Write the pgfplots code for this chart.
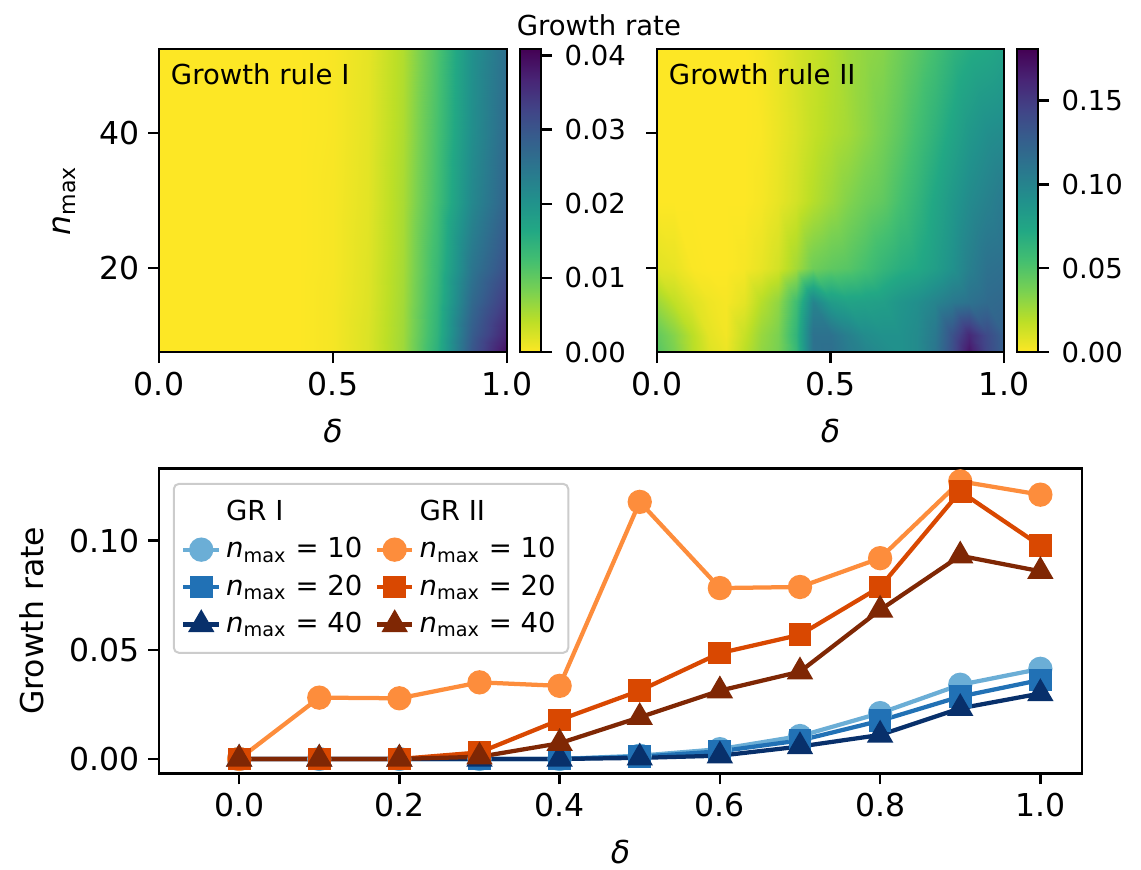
\documentclass[border=0pt]{standalone}
\usepackage{fontspec}
\setmainfont{DejaVu Sans}
\usepackage{pgfplots}
\usepackage{pgfplotstable}
\pgfplotsset{compat=1.18}

\definecolor{bI1}{RGB}{107,174,214}
\definecolor{bI2}{RGB}{33,113,181}
\definecolor{bI3}{RGB}{8,48,107}
\definecolor{oII1}{RGB}{253,141,60}
\definecolor{oII2}{RGB}{217,72,1}
\definecolor{oII3}{RGB}{127,39,4}

\newcommand{\nmax}{\textit{n}\textsubscript{max}}
\newcommand{\fbig}{\fontsize{12.6}{15}\selectfont}
\newcommand{\fsmall}{\fontsize{11}{13}\selectfont}

% heat map GR I: delta (0..1), nmax, growth rate
\pgfplotstableread{
d n v
0.0 7.5 0
0.1 7.5 0
0.2 7.5 0
0.3 7.5 0
0.4 7.5 0
0.5 7.5 0.0005
0.6 7.5 0.0022
0.7 7.5 0.0060
0.8 7.5 0.0150
0.9 7.5 0.0300
1.0 7.5 0.0395
0.0 10 0
0.1 10 0
0.2 10 0
0.3 10 0
0.4 10 0
0.5 10 0.0005
0.6 10 0.0022
0.7 10 0.0059
0.8 10 0.0145
0.9 10 0.0290
1.0 10 0.0370
0.0 15 0
0.1 15 0
0.2 15 0
0.3 15 0
0.4 15 0
0.5 15 0.0005
0.6 15 0.0020
0.7 15 0.0057
0.8 15 0.0140
0.9 15 0.0270
1.0 15 0.0340
0.0 20 0
0.1 20 0
0.2 20 0
0.3 20 0
0.4 20 0
0.5 20 0.0004
0.6 20 0.0019
0.7 20 0.0055
0.8 20 0.0135
0.9 20 0.0250
1.0 20 0.0310
0.0 30 0
0.1 30 0
0.2 30 0
0.3 30 0
0.4 30 0
0.5 30 0.0004
0.6 30 0.0017
0.7 30 0.0053
0.8 30 0.0125
0.9 30 0.0220
1.0 30 0.0280
0.0 40 0
0.1 40 0
0.2 40 0
0.3 40 0
0.4 40 0
0.5 40 0.0003
0.6 40 0.0016
0.7 40 0.0050
0.8 40 0.0120
0.9 40 0.0210
1.0 40 0.0270
0.0 52.5 0
0.1 52.5 0
0.2 52.5 0
0.3 52.5 0
0.4 52.5 0
0.5 52.5 0.0003
0.6 52.5 0.0015
0.7 52.5 0.0048
0.8 52.5 0.0115
0.9 52.5 0.0205
1.0 52.5 0.0260
}\gri

% heat map GR II
\pgfplotstableread{
d n v
0.00 7.5 0.048
0.05 7.5 0.036
0.10 7.5 0.020
0.15 7.5 0.009
0.20 7.5 0.005
0.25 7.5 0.018
0.30 7.5 0.030
0.35 7.5 0.037
0.40 7.5 0.060
0.45 7.5 0.113
0.50 7.5 0.115
0.55 7.5 0.106
0.60 7.5 0.100
0.65 7.5 0.094
0.70 7.5 0.090
0.75 7.5 0.095
0.80 7.5 0.110
0.85 7.5 0.137
0.90 7.5 0.170
0.95 7.5 0.142
1.00 7.5 0.126
0.00 10 0.044
0.05 10 0.033
0.10 10 0.019
0.15 10 0.007
0.20 10 0.003
0.25 10 0.015
0.30 10 0.028
0.35 10 0.036
0.40 10 0.063
0.45 10 0.113
0.50 10 0.113
0.55 10 0.103
0.60 10 0.094
0.65 10 0.090
0.70 10 0.090
0.75 10 0.095
0.80 10 0.108
0.85 10 0.135
0.90 10 0.160
0.95 10 0.140
1.00 10 0.125
0.00 15 0.027
0.05 15 0.017
0.10 15 0.009
0.15 15 0.004
0.20 15 0.002
0.25 15 0.007
0.30 15 0.020
0.35 15 0.030
0.40 15 0.056
0.45 15 0.100
0.50 15 0.082
0.55 15 0.077
0.60 15 0.078
0.65 15 0.080
0.70 15 0.087
0.75 15 0.092
0.80 15 0.100
0.85 15 0.108
0.90 15 0.113
0.95 15 0.118
1.00 15 0.120
0.00 20 0.008
0.05 20 0.006
0.10 20 0.001
0.15 20 0
0.20 20 0
0.25 20 0.002
0.30 20 0.006
0.35 20 0.012
0.40 20 0.025
0.45 20 0.040
0.50 20 0.045
0.55 20 0.048
0.60 20 0.054
0.65 20 0.062
0.70 20 0.068
0.75 20 0.072
0.80 20 0.080
0.85 20 0.090
0.90 20 0.103
0.95 20 0.113
1.00 20 0.115
0.00 30 0
0.05 30 0
0.10 30 0
0.15 30 0
0.20 30 0
0.25 30 0
0.30 30 0.002
0.35 30 0.006
0.40 30 0.012
0.45 30 0.020
0.50 30 0.027
0.55 30 0.034
0.60 30 0.040
0.65 30 0.045
0.70 30 0.054
0.75 30 0.063
0.80 30 0.074
0.85 30 0.085
0.90 30 0.095
0.95 30 0.102
1.00 30 0.108
0.00 40 0
0.05 40 0
0.10 40 0
0.15 40 0
0.20 40 0
0.25 40 0
0.30 40 0.001
0.35 40 0.005
0.40 40 0.010
0.45 40 0.016
0.50 40 0.021
0.55 40 0.025
0.60 40 0.031
0.65 40 0.038
0.70 40 0.046
0.75 40 0.055
0.80 40 0.065
0.85 40 0.075
0.90 40 0.085
0.95 40 0.092
1.00 40 0.095
0.00 52.5 0
0.05 52.5 0
0.10 52.5 0
0.15 52.5 0
0.20 52.5 0
0.25 52.5 0
0.30 52.5 0.002
0.35 52.5 0.006
0.40 52.5 0.011
0.45 52.5 0.015
0.50 52.5 0.020
0.55 52.5 0.026
0.60 52.5 0.030
0.65 52.5 0.033
0.70 52.5 0.040
0.75 52.5 0.047
0.80 52.5 0.055
0.85 52.5 0.064
0.90 52.5 0.070
0.95 52.5 0.073
1.00 52.5 0.078
}\grii

% line plot: delta, GR I (n=10,20,40), GR II (n=10,20,40)
\pgfplotstableread{
d  a10    a20    a40    b10    b20    b40
0.0 0      0      0      0      0      0
0.1 0      0      0      0.0281 0      0
0.2 0      0      0      0.0278 0      0
0.3 0      0      0      0.0351 0.0030 0.0010
0.4 0      0      0      0.0335 0.0179 0.0072
0.5 0.0015 0.0010 0.0005 0.1178 0.0313 0.0191
0.6 0.0045 0.0035 0.0015 0.0783 0.0485 0.0313
0.7 0.0105 0.0085 0.0057 0.0788 0.0569 0.0400
0.8 0.0210 0.0175 0.0110 0.0920 0.0788 0.0683
0.9 0.0340 0.0286 0.0232 0.1272 0.1226 0.0931
1.0 0.0413 0.0362 0.0300 0.1211 0.0977 0.0860
}\lines

\pgfplotsset{
  colormap={viridisr}{rgb255=(253,231,37) rgb255=(189,223,38) rgb255=(122,209,81) rgb255=(68,191,112) rgb255=(34,168,132) rgb255=(33,145,140) rgb255=(42,120,142) rgb255=(53,95,141) rgb255=(65,68,135) rgb255=(72,36,117) rgb255=(68,1,84)},
  myax/.style={
    scale only axis,
    anchor=north west,
    font=\fbig,
    /pgf/number format/assume math mode=true,
    axis line style={line width=1pt},
    tick align=outside,
    tick pos=left,
    major tick length=4.4pt,
    every tick/.append style={line width=1pt, black},
    scaled ticks=false,
    tick label style={font=\fbig},
    label style={font=\fbig},
    xlabel shift=2.5pt,
  },
  mycb/.style={
    at={(parent axis.north east)}, anchor=north west, xshift=-3.3pt,
    width=8.4pt,
    axis line style={line width=1pt},
    tick align=outside,
    tick pos=right,
    yticklabel pos=right,
    major tick length=4.4pt,
    every tick/.append style={line width=1pt, black},
    scaled y ticks=false,
    yticklabel style={font=\fsmall, xshift=1.5pt, /pgf/number format/.cd, fixed, fixed zerofill, precision=2, assume math mode=true},
  },
}

\begin{document}
\begin{tikzpicture}
\useasboundingbox (0,0) rectangle (456.4pt,-347.6pt);

% ---- heat map GR I
\begin{axis}[myax, at={(63.6pt,-19.6pt)}, width=139.2pt, height=121.2pt,
  xmin=0, xmax=1, ymin=7.5, ymax=52.5,
  xtick={0,0.5,1}, ytick={20,40},
  xticklabel style={/pgf/number format/.cd, fixed, fixed zerofill, precision=1},
  xlabel={\textit{δ}}, ylabel={\nmax}, ylabel shift=2.5pt,
  colormap name=viridisr, point meta min=0, point meta max=0.0409,
  colorbar,
  colorbar style={mycb, ytick={0,0.01,0.02,0.03,0.04}},
  axis on top,
  clip=false,
]
\addplot[surf, shader=interp, mesh/cols=11, point meta=\thisrow{v}] table[x=d, y=n] {\gri};
\node[anchor=north west, font=\fsmall, inner sep=0pt] at (axis description cs:0.033,0.955) {Growth rule I};
\node[anchor=base, inner sep=0pt] at (axis description cs:1.264,1.046) {\fontsize{11}{13}\selectfont Growth rate};
\end{axis}

% ---- heat map GR II
\begin{axis}[myax, at={(262.8pt,-19.6pt)}, width=138.8pt, height=121.2pt,
  xmin=0, xmax=1, ymin=7.5, ymax=52.5,
  xtick={0,0.5,1}, ytick={20,40}, yticklabels={},
  xticklabel style={/pgf/number format/.cd, fixed, fixed zerofill, precision=1},
  xlabel={\textit{δ}},
  colormap name=viridisr, point meta min=0, point meta max=0.1807,
  colorbar,
  colorbar style={mycb, ytick={0,0.05,0.1,0.15}},
  axis on top,
]
\addplot[surf, shader=interp, mesh/cols=21, point meta=\thisrow{v}] table[x=d, y=n] {\grii};
\node[anchor=north west, font=\fsmall, inner sep=0pt] at (axis description cs:0.033,0.955) {Growth rule II};
\end{axis}

% ---- line plot
\begin{axis}[myax, at={(63.6pt,-187.3pt)}, width=369.2pt, height=122pt,
  xmin=-0.1, xmax=1.052, ymin=-0.00655, ymax=0.1332,
  xtick={0,0.2,0.4,0.6,0.8,1.0}, ytick={0,0.05,0.1},
  xticklabel style={/pgf/number format/.cd, fixed, fixed zerofill, precision=1},
  yticklabel style={/pgf/number format/.cd, fixed, fixed zerofill, precision=2},
  xlabel={\textit{δ}}, ylabel={Growth rate}, ylabel shift=3pt,
  legend columns=2,
  legend cell align=left,
  legend style={at={(0.015,0.952)}, anchor=north west, draw=black!20, line width=0.8pt,
    rounded corners=2pt, fill=white, font=\fsmall, row sep=1.3pt, inner ysep=4.5pt,
    /tikz/every even column/.append style={column sep=3pt}},
  legend image code/.code={\draw[mark repeat=2, mark phase=2] plot coordinates {(0cm,0cm) (0.25cm,0cm) (0.5cm,0cm)};},
]
\addlegendimage{empty legend}\addlegendentry{GR I}
\addlegendimage{empty legend}\addlegendentry{GR II}
\addlegendimage{color=bI1, line width=1.7pt, mark=*, mark size=4pt}\addlegendentry{\nmax\ = 10}
\addlegendimage{color=oII1, line width=1.7pt, mark=*, mark size=4pt}\addlegendentry{\nmax\ = 10}
\addlegendimage{color=bI2, line width=1.7pt, mark=square*, mark size=3.7pt}\addlegendentry{\nmax\ = 20}
\addlegendimage{color=oII2, line width=1.7pt, mark=square*, mark size=3.7pt}\addlegendentry{\nmax\ = 20}
\addlegendimage{color=bI3, line width=1.7pt, mark=triangle*, mark size=4.4pt}\addlegendentry{\nmax\ = 40}
\addlegendimage{color=oII3, line width=1.7pt, mark=triangle*, mark size=4.4pt}\addlegendentry{\nmax\ = 40}

\addplot[forget plot, color=bI1, line width=1.7pt, mark=*, mark size=4pt] table[x=d, y=a10] {\lines};
\addplot[forget plot, color=bI2, line width=1.7pt, mark=square*, mark size=3.7pt] table[x=d, y=a20] {\lines};
\addplot[forget plot, color=bI3, line width=1.7pt, mark=triangle*, mark size=4.4pt] table[x=d, y=a40] {\lines};
\addplot[forget plot, color=oII1, line width=1.7pt, mark=*, mark size=4pt] table[x=d, y=b10] {\lines};
\addplot[forget plot, color=oII2, line width=1.7pt, mark=square*, mark size=3.7pt] table[x=d, y=b20] {\lines};
\addplot[forget plot, color=oII3, line width=1.7pt, mark=triangle*, mark size=4.4pt] table[x=d, y=b40] {\lines};
\end{axis}
\end{tikzpicture}
\end{document}
